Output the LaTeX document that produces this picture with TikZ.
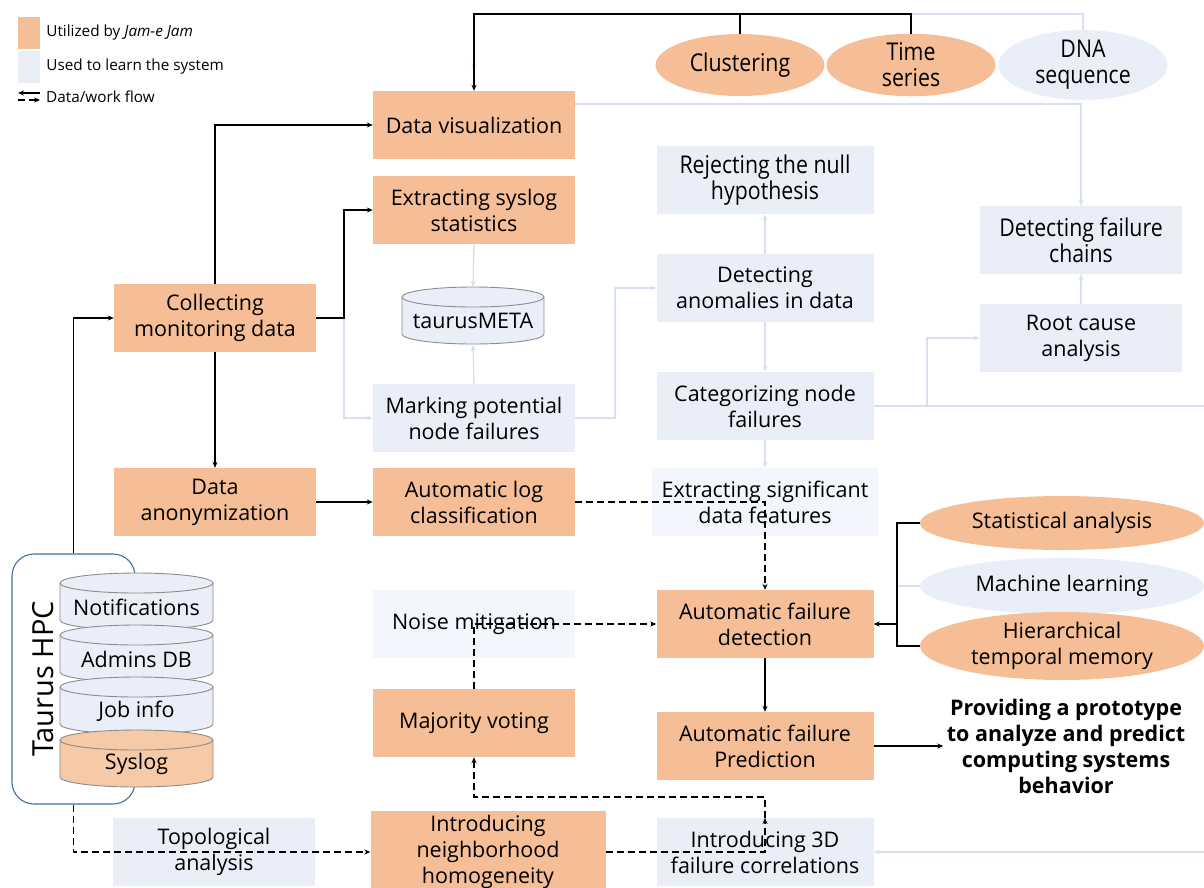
\documentclass[tikz,border=0pt]{standalone}
\usepackage{fontspec}
\setmainfont{Open Sans}
\newfontfamily\narrowfont[FakeStretch=0.87]{Open Sans}
\usetikzlibrary{arrows.meta,positioning,calc,shapes.geometric}

\definecolor{jamorange}{HTML}{F5BE96}
\definecolor{sysorange}{HTML}{F6C9A7}
\definecolor{learnblue}{HTML}{E9EEF8}
\definecolor{paleblue}{HTML}{F3F6FC}
\definecolor{flowblue}{HTML}{D6E0F1}
\definecolor{hpcblue}{HTML}{41719C}

% database drum: name, centre x, top y, width, fill, label
\newcommand{\dbcyl}[6]{%
  \pgfmathsetmacro\cw{#4/2}
  \filldraw[fill=#5,draw=gray!90,line width=0.9pt]
    (#2-\cw,#3+10) -- (#2-\cw,#3+47)
    arc[start angle=180,end angle=360,x radius=\cw pt,y radius=10pt]
    -- (#2+\cw,#3+10)
    arc[start angle=0,end angle=180,x radius=\cw pt,y radius=10pt] -- cycle;
  \draw[gray!90,line width=0.9pt] (#2-\cw,#3+10)
    arc[start angle=180,end angle=360,x radius=\cw pt,y radius=10pt];
  \node (#1) at (#2,#3+34) {#6};
}

\begin{document}
\begin{tikzpicture}[x=1pt,y=-1pt,font=\fontsize{21.5}{26}\selectfont,>=Stealth,
  box/.style={minimum width=202pt,minimum height=68pt,align=center,inner sep=0pt},
  used/.style={box,fill=jamorange},
  learn/.style={box,fill=learnblue},
  pale/.style={box,fill=paleblue},
  oval/.style={ellipse,inner sep=0pt,align=center},
  narrow/.style={font=\narrowfont\fontsize{24.5}{26}\selectfont},
  flow/.style={draw=black,line width=1.1pt,-{Stealth[length=6pt,width=5pt]}},
  soft/.style={draw=flowblue,line width=1.4pt,-{Stealth[length=6pt,width=5pt]}},
  dflow/.style={flow,dash pattern=on 7pt off 4pt},
  key/.style={font=\fontsize{15.3}{17}\selectfont,right=6pt,inner sep=0pt},
]
\clip (0,0) rectangle (1204,887);

% legend
\node[fill=jamorange,minimum width=22pt,minimum height=32pt,inner sep=0pt] (keyA) at (29,33) {};
\node[key] at (keyA.east) {Utilized by \textit{Jam-e Jam}};
\node[fill=learnblue,minimum width=22pt,minimum height=32pt,inner sep=0pt] (keyB) at (29,67) {};
\node[key] at (keyB.east) {Used to learn the system};
\coordinate (keyC1) at (18,93);
\coordinate (keyC2) at (40,93);
\coordinate (keyD1) at (18,100);
\coordinate (keyD2) at (40,100);
\draw[flow] (keyC2) -- (keyC1);
\draw[dflow] (keyD1) -- (keyD2);
\node[key] at (40,97) {Data/work flow};

% methods on top
\node[oval,narrow,fill=jamorange,minimum width=169pt,minimum height=62pt] (clust) at (740,65) {Clustering};
\node[oval,narrow,fill=jamorange,minimum width=169pt,minimum height=62pt] (tseries) at (911,65) {Time\\series};
\node[oval,narrow,fill=learnblue,minimum width=169pt,minimum height=62pt] (dna) at (1083,65) {DNA\\sequence};

% main column
\node[used] (datavis) at (474,125) {Data visualization};
\node[used] (sysstat) at (474,210) {Extracting syslog\\statistics};
\node[learn] (marking) at (474,418) {Marking potential\\node failures};
\node[used] (logclass) at (474,502) {Automatic log\\classification};
\node[pale] (noise) at (474,624) {Noise mitigation};
\node[used] (majority) at (474,723) {Majority voting};
\node[used,minimum width=235pt,minimum height=82pt] (nbh) at (488,852) {Introducing\\neighborhood\\homogeneity};

\node[used] (collect) at (215,318) {Collecting\\monitoring data};
\node[used] (anon) at (215,502) {Data\\anonymization};
\node[learn] (topo) at (214,852) {Topological\\analysis};

\node[learn,narrow,minimum width=217pt] (reject) at (765,180) {Rejecting the null\\hypothesis};
\node[learn,minimum width=217pt] (anomal) at (765,288) {Detecting\\anomalies in data};
\node[learn,minimum width=217pt] (categ) at (765,406) {Categorizing node\\failures};
\node[pale,minimum width=226pt] (sigfeat) at (765,502) {Extracting significant\\data features};
\node[used,minimum width=217pt] (detect) at (765,624) {Automatic failure\\detection};
\node[used,minimum width=217pt] (predict) at (765,746) {Automatic failure\\Prediction};
\node[learn,minimum width=217pt] (corr3d) at (765,852) {Introducing 3D\\failure correlations};

\node[learn,narrow] (chains) at (1081,240) {Detecting failure\\chains};
\node[learn] (rootcause) at (1081,338) {Root cause\\analysis};

\node[oval,fill=jamorange,minimum width=284pt,minimum height=54pt] (stat) at (1062,523) {Statistical analysis};
\node[oval,fill=learnblue,minimum width=284pt,minimum height=56pt] (ml) at (1062,586) {Machine learning};
\node[oval,fill=jamorange,minimum width=284pt,minimum height=68pt] (htm) at (1062,646) {Hierarchical\\temporal memory};

\node[font=\bfseries\fontsize{21.5}{26}\selectfont,align=center] (goal) at (1066,746)
  {Providing a prototype\\to analyze and predict\\computing systems\\behavior};

% the HPC system and its data sources
\node[draw=hpcblue,line width=1.1pt,fill=white,rounded corners=22pt,minimum width=123pt,minimum height=250pt] (hpc) at (73.5,679) {};
\node[rotate=90,font=\fontsize{29}{30}\selectfont] (hpclbl) at (43,679) {Taurus HPC};
\dbcyl{notif}{136.5}{573}{153}{learnblue}{Notifications}
\dbcyl{admdb}{136.5}{625}{153}{learnblue}{Admins DB}
\dbcyl{jobinfo}{136.5}{677}{153}{learnblue}{Job info}
\dbcyl{syslog}{136.5}{730}{153}{sysorange}{Syslog}
\dbcyl{tmeta}{473}{287}{142}{learnblue}{taurusMETA}

% helper points
\coordinate (topl) at (474,14);
\coordinate (dnatip) at (474,70);
\coordinate (cbr) at (344,318);
\coordinate (mkr) at (615,418);
\coordinate (catr) at (927,406);
\coordinate (redge1) at (1210,406);
\coordinate (redge2) at (1210,852);
\coordinate (brk) at (897,624);
\coordinate (cr) at (765,797);

% light flows
\draw[soft] (dna.north) |- (topl) -- (dnatip);
\draw[soft] ([yshift=21pt]datavis.east) -| (chains.north);
\draw[soft] (sysstat.south) -- (tmeta.north |- 0,287);
\draw[soft] (marking.north) -- (tmeta.south |- 0,345);
\draw[soft] (cbr) |- (marking.west);
\draw[soft] (marking.east) -- (mkr) |- (anomal.west);
\draw[soft] (anomal.north) -- (reject.south);
\draw[soft] (anomal.south) -- (categ.south |- categ.north);
\draw[soft] (categ.south) -- (sigfeat.north);
\draw[soft,-] (categ.east) -- (redge1);
\draw[soft] (catr) |- (rootcause.west);
\draw[soft] (rootcause.north) -- (chains.south);
\draw[soft] (redge2) -- (corr3d.east);
\draw[soft,-] (ml.west) -- (ml.west -| brk);

% solid flows
\draw[flow,-] (clust.north) -- (clust.north |- topl);
\draw[flow] (tseries.north) |- (topl) -- (datavis.north);
\draw[flow] (hpc.north) |- (collect.west);
\draw[flow] (collect.north) |- (datavis.west);
\draw[flow] (collect.east) -- (cbr) |- (sysstat.west);
\draw[flow] (collect.south) -- (anon.north);
\draw[flow] (anon.east) -- (logclass.west);
\draw[flow,-] (stat.west) -| (brk) |- (htm.west);
\draw[flow] (brk) -- (detect.east);
\draw[flow] (detect.south) -- (predict.north);
\draw[flow] (predict.east) -- (goal.west);

% dashed flows
\draw[dflow] (logclass.east) -| (detect.north);
\draw[dflow] (majority.north) |- (detect.west);
\draw[dflow] (hpc.south) |- (nbh.west);
\draw[dflow] (nbh.east) -| (corr3d.north);
\draw[dflow] (corr3d.north) -- (cr) -| (majority.south);
\end{tikzpicture}
\end{document}
